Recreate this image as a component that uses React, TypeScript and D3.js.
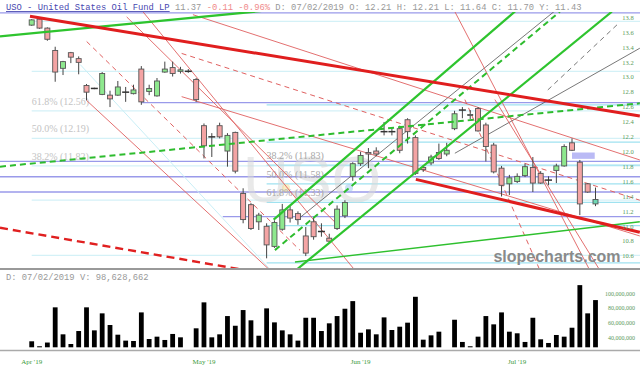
import React from 'react';
import * as d3 from 'd3';

// ---------- DATA ----------
const opens = [13.71,13.79,13.67,13.37,13.13,13.34,13.26,12.90,12.86,12.78,12.77,12.77,12.81,12.79,13.12,12.82,12.76,13.08,13.14,13.09,13.09,12.98,12.36,12.21,12.36,12.02,12.27,11.45,11.30,11.07,11.01,10.74,10.97,11.23,11.18,10.88,11.07,10.94,10.85,10.98,11.15,11.68,11.85,12.00,12.02,12.28,12.28,12.32,12.44,12.20,11.80,11.86,12.00,11.98,12.32,12.57,12.50,12.59,12.37,12.10,11.79,11.58,11.61,11.69,11.80,11.72,11.63,11.76,11.82,12.13,11.87,11.58,11.31];
const highs = [13.79,13.80,13.68,13.42,13.23,13.35,13.29,12.92,12.87,13.08,12.83,12.96,12.88,12.91,13.16,12.91,13.00,13.22,13.22,13.15,13.12,13.00,12.39,12.26,12.40,12.26,12.28,11.52,11.32,11.19,11.05,11.09,11.31,11.28,11.21,11.00,11.12,11.05,10.91,11.29,11.36,11.87,12.01,12.06,12.07,12.41,12.33,12.36,12.46,12.23,11.83,11.97,12.12,12.13,12.56,12.61,12.57,12.61,12.40,12.13,11.82,11.70,11.72,11.85,11.94,11.75,11.68,11.85,12.11,12.19,11.90,11.59,11.53];
const lows = [13.70,13.66,13.50,12.95,13.04,13.20,13.05,12.70,12.85,12.77,12.61,12.76,12.68,12.78,12.64,12.77,12.75,13.07,13.02,13.06,13.07,12.68,11.92,11.94,12.19,11.81,11.72,11.05,10.96,10.96,10.58,10.72,10.95,11.06,11.03,10.61,10.83,10.87,10.79,10.96,11.12,11.62,11.82,11.79,11.95,12.23,12.23,11.99,12.12,11.70,11.74,11.83,11.90,11.95,12.30,12.46,12.45,12.28,11.88,11.72,11.41,11.43,11.59,11.67,11.47,11.58,11.56,11.59,11.81,12.02,11.16,11.46,11.28];
const closes = [13.78,13.67,13.52,13.08,13.22,13.28,13.21,12.81,12.86,13.06,12.72,12.88,12.81,12.84,12.68,12.86,12.96,13.12,13.06,13.11,13.09,12.71,12.09,12.21,12.21,12.23,11.75,11.10,10.98,11.16,10.76,11.06,11.23,11.12,11.10,10.65,10.87,10.94,10.81,11.24,11.33,11.85,11.96,11.98,11.98,12.28,12.28,12.03,12.28,11.72,11.77,11.94,11.92,12.03,12.52,12.57,12.51,12.29,12.08,11.74,11.56,11.66,11.68,11.81,11.59,11.59,11.63,11.82,12.08,12.03,11.31,11.47,11.37];
// volume in millions of shares, null = no print
const volumes: (number | null)[] = [35.9,29.1,34.2,82.2,45.4,32.2,49.9,82.2,50.8,74.0,58.1,44.9,36.8,36.3,75.3,39.0,42.2,37.7,45.9,41.3,null,53.6,89.0,41.3,45.4,70.3,57.1,78.5,64.5,43.5,80.8,61.7,50.8,45.4,36.8,68.0,68.0,49.9,60.4,70.3,80.3,90.7,47.6,52.2,45.4,68.5,51.3,55.8,61.3,96.6,38.1,44.0,49.0,null,65.3,35.0,29.1,42.2,70.3,59.0,75.3,49.0,46.8,35.0,68.0,38.6,33.6,44.5,42.2,54.4,112.5,74.0,92.1];

const monthTickSlots = [0, 22, 42, 62];
const monthTickLabels = ["Apr '19", "May '19", "Jun '19", "Jul '19"];
const priceTicks = [10.6,10.8,11.0,11.2,11.4,11.6,11.8,12.0,12.2,12.4,12.6,12.8,13.0,13.2,13.4,13.6,13.8];
const volumeTicks = [40e6, 60e6, 80e6, 100e6];

// Fibonacci retracements
const fib1Levels = [10.62, 11.36, 11.82, 12.19, 12.56, 13.09, 13.76];
const fib1LabelLevels = [11.82, 12.19, 12.56];
const fib1Labels = ['38.2% (11.82)', '50.0% (12.19)', '61.8% (12.56)'];
const fib1StartSlot = 0;
const fib2Levels = [12.64, 12.14, 11.83, 11.58, 11.33, 11.02, 10.52];
const fib2LabelLevels = [11.83, 11.58, 11.33];
const fib2Labels = ['38.2% (11.83)', '50.0% (11.58)', '61.8% (11.33)'];
const fib2StartSlot = 30;

// horizontal price lines [price, start slot]
const purpleLevels = [[13.875, -5], [12.67, 14], [11.88, -5], [11.675, -5], [11.47, -5], [11.14, 24.4]];

// trend lines: [slot1, price1, slot2, price2]
const thickRedLines = [[-0.22, 13.83, 77.66, 12.49], [49.06, 11.64, 77.66, 10.93]];
const thickRedDashed = [[-4.05, 10.99, 31.7, 10.34]];
const thickGreenLines = [[-4.05, 13.56, 29.4, 13.90], [30.9, 11.10, 62.34, 13.95], [33.74, 10.42, 74.09, 13.89]];
const thinGreenLines = [[33.62, 10.53, 77.66, 11.07]];
const greenDashed = [[-4.05, 11.81, 77.66, 12.66], [31.06, 10.69, 67.45, 13.89]];
const thinRedLines = [[7.0, 12.70, 30.43, 10.42], [12.13, 13.82, 39.36, 11.0], [20.59, 13.85, 77.66, 11.90], [19.15, 12.75, 77.66, 10.88], [54.04, 13.89, 71.27, 10.42], [59.15, 12.71, 72.55, 10.42], [14.2, 13.89, 41.9, 10.34]];
const thinRedDashed = [[7.02, 13.49, 34.25, 10.69], [19.15, 13.33, 77.66, 11.36], [55.32, 12.71, 64.9, 10.42]];
const thinGrayLines = [[33.83, 11.09, 68.21, 14.02], [54.04, 11.99, 77.66, 13.40]];
const thinGrayDashed = [[65.91, 12.84, 75.11, 13.75]];
const faintCyanLines = [[6.2, 13.18, 34.25, 10.0]];

// highlighted zone [slot1, slot2, high, low]
const zone = [69, 71.9, 12.0, 11.915];

const header = { title: 'USO - United States Oil Fund LP', last: '11.37', change: '-0.11 -0.96%', ohlc: 'D: 07/02/2019 O: 12.21 H: 12.21 L: 11.64 C: 11.70 Y: 11.43' };
const volumeHeader = 'D: 07/02/2019 V:  98,628,662';

export default function App() {
  const W = 640, H = 374;
  const x = d3.scaleLinear().domain([0, 72]).range([31.7, 595.5]);
  const y = d3.scaleLinear().domain([10.45, 13.886]).range([268, 12]);
  const v = d3.scaleLinear().domain([27.7e6, 130e6]).range([347.3, 272.3]);
  const bw = 5;
  const mono = '"Liberation Mono", "DejaVu Sans Mono", monospace';
  const serif = '"Liberation Serif", "DejaVu Serif", serif';

  const seg = (arr: number[][], style: any, key: string) =>
    arr.map((l, i) => (
      <line key={key + i} x1={x(l[0])} y1={y(l[1])} x2={x(l[2])} y2={y(l[3])} {...style} />
    ));

  const idx = d3.range(opens.length);
  const fmtVol = d3.format(',');

  return (
    <svg width={W} height={H} style={{ position: 'absolute', left: 0, top: 0, background: '#fff' }}>
      <defs>
        <clipPath id="mainClip"><rect x={0} y={12} width={W} height={256} /></clipPath>
      </defs>

      {/* header */}
      <text x={6} y={10} fontFamily={mono} fontSize={8.8} fill="#999">
        <tspan fill="#4848b0" textDecoration="underline">{header.title}</tspan>
        <tspan> {header.last} </tspan>
        <tspan fill="#f08a8a">{header.change}</tspan>
        <tspan> {header.ohlc}</tspan>
      </text>

      <g clipPath="url(#mainClip)">
        {/* fib 1 (faint) */}
        {fib1Levels.map((p, i) => (
          <line key={'f1' + i} x1={x(fib1StartSlot)} x2={W} y1={y(p)} y2={y(p)} stroke="#d4f1f7" strokeWidth={1.2} />
        ))}
        {/* fib 2 */}
        {fib2Levels.map((p, i) => (
          <line key={'f2' + i} x1={x(fib2StartSlot)} x2={W} y1={y(p)} y2={y(p)} stroke="#9fe2f0" strokeWidth={1.3} />
        ))}
        {purpleLevels.map((p, i) => (
          <line key={'pl' + i} x1={Math.max(0, x(p[1]))} x2={W} y1={y(p[0])} y2={y(p[0])} stroke="#9a9aea" strokeWidth={1.3} />
        ))}

        {/* watermark */}
        <text x={312} y={202} textAnchor="middle" fontFamily='"Liberation Sans", Arial, sans-serif' fontSize={64} fill="#d8d8d8" opacity={0.55}>USO</text>
        <circle cx={286} cy={188} r={4} fill="#f5dc8a" opacity={0.5} />
        <circle cx={349} cy={188} r={4} fill="#9cc4ee" opacity={0.5} />

        {fib1Labels.map((t, i) => (
          <text key={'fl1' + i} x={x(fib1StartSlot)} y={y(fib1LabelLevels[i]) - 6} fontFamily={serif} fontSize={10} fill="#c4c4c4">{t}</text>
        ))}
        {fib2Labels.map((t, i) => (
          <text key={'fl2' + i} x={x(fib2StartSlot)} y={y(fib2LabelLevels[i]) - 6} fontFamily={serif} fontSize={10} fill="#a8a8a8">{t}</text>
        ))}

        {seg(faintCyanLines, { stroke: '#c8eef6', strokeWidth: 1 }, 'fc')}
        {seg(thinGrayLines, { stroke: '#555', strokeWidth: 0.8 }, 'tg')}
        {seg(thinGrayDashed, { stroke: '#555', strokeWidth: 0.8, strokeDasharray: '5,4' }, 'tgd')}
        {seg(thinRedLines, { stroke: '#e06060', strokeWidth: 0.9 }, 'tr')}
        {seg(thinRedDashed, { stroke: '#e06060', strokeWidth: 1, strokeDasharray: '5,4' }, 'trd')}

        {/* candles */}
        {idx.map(i => {
          const o = opens[i], c = closes[i], hi = highs[i], lo = lows[i];
          const cx = x(i);
          const up = c > o;
          const doji = Math.abs(c - o) < 0.005;
          const last = i === opens.length - 1;
          const top = y(Math.max(o, c)), bot = y(Math.min(o, c));
          return (
            <g key={'c' + i}>
              <line x1={cx} x2={cx} y1={y(hi)} y2={y(lo)} stroke="#444" strokeWidth={1} />
              {doji ? (
                <line x1={cx - bw / 2 - 1} x2={cx + bw / 2 + 1} y1={top} y2={top} stroke="#333" strokeWidth={1.5} />
              ) : (
                <rect x={cx - bw / 2} y={top} width={bw} height={Math.max(1, bot - top)}
                  fill={last ? '#6fd8b4' : up ? '#8ee88e' : '#f4a4a4'} stroke="#555" strokeWidth={0.9} />
              )}
            </g>
          );
        })}

        {/* zone */}
        <rect x={x(zone[0])} y={y(zone[2])} width={x(zone[1]) - x(zone[0])} height={y(zone[3]) - y(zone[2])} fill="#a9a9f2" opacity={0.8} />

        {seg(thinGreenLines, { stroke: '#2ec02e', strokeWidth: 1.4 }, 'tgl')}
        {seg(greenDashed, { stroke: '#2ebc2e', strokeWidth: 2, strokeDasharray: '6,4' }, 'gd')}
        {seg(thickGreenLines, { stroke: '#2ec42e', strokeWidth: 2.2 }, 'gl')}
        {seg(thickRedDashed, { stroke: '#e02020', strokeWidth: 2.4, strokeDasharray: '8,5' }, 'rd')}
        {seg(thickRedLines, { stroke: '#e01e1e', strokeWidth: 3, }, 'rl')}

        <text x={557} y={262} textAnchor="middle" fontFamily='"Liberation Sans", Arial, sans-serif' fontWeight="bold" fontSize={16} fill="#8a8a8a">slopecharts.com</text>
      </g>

      {/* price axis labels */}
      {priceTicks.map((p, i) => (
        <text key={'pt' + i} x={628} y={y(p)} dominantBaseline="middle" textAnchor="middle" fontFamily={serif} fontSize={6.5} fill="#5a9a5a">{p.toFixed(1)}</text>
      ))}

      {/* separators */}
      <line x1={0} x2={W} y1={269} y2={269} stroke="#999" strokeWidth={2} />

      {/* volume panel */}
      <text x={6} y={280} fontFamily={mono} fontSize={8.8} fill="#999">{volumeHeader}</text>
      {volumes.map((vol, i) => vol == null ? null : (
        <rect key={'v' + i} x={x(i) - 2.4} y={v(vol * 1e6)} width={4.8} height={v.range()[0] - v(vol * 1e6)} fill="#000" />
      ))}
      {volumeTicks.map((t, i) => (
        <text key={'vt' + i} x={635} y={v(t)} dominantBaseline="middle" textAnchor="end" fontFamily={serif} fontSize={6} fill="#5a9a5a">{fmtVol(t)}</text>
      ))}
      <line x1={0} x2={W} y1={350.5} y2={350.5} stroke="#aaa" strokeWidth={1.5} />

      {/* x axis */}
      {monthTickSlots.map((s, i) => (
        <text key={'mt' + i} x={x(s)} y={364} textAnchor="middle" fontFamily={serif} fontSize={7} fill="#3a9a3a">{monthTickLabels[i]}</text>
      ))}
    </svg>
  );
}
